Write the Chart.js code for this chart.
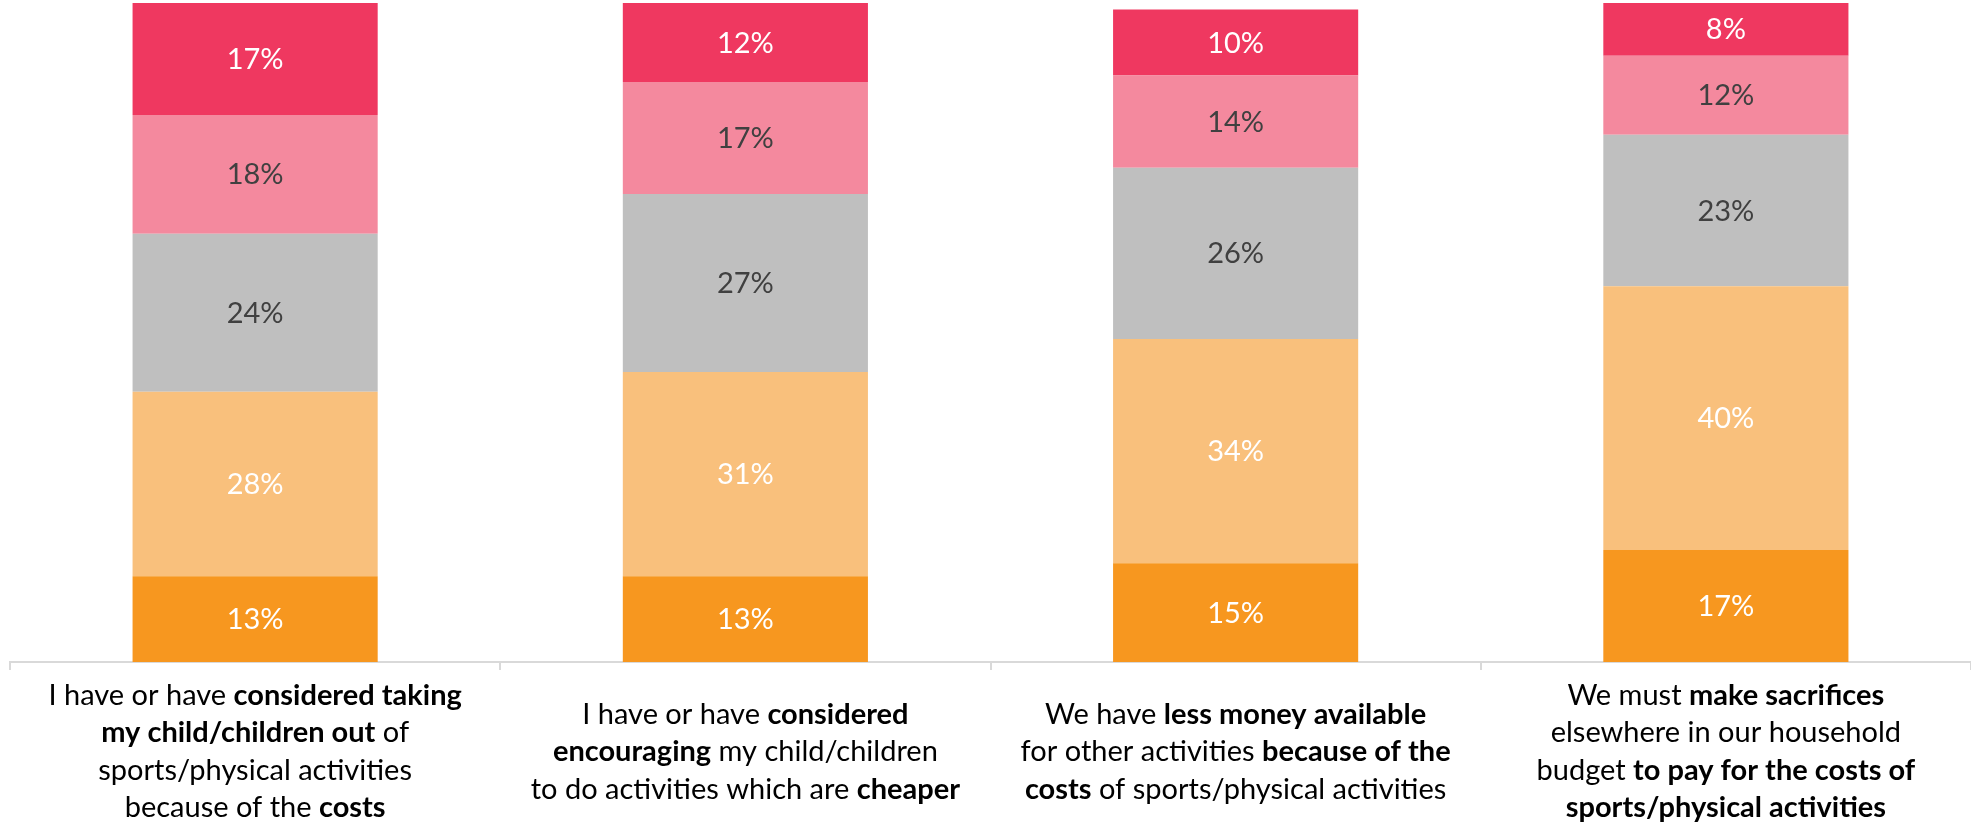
<!DOCTYPE html>
<html>
<head>
<meta charset="utf-8">
<script src="https://cdn.jsdelivr.net/npm/chart.js@4"></script>
<style>
  html, body { margin: 0; padding: 0; background: #fff; }
  #chart { display: block; }
</style>
</head>
<body>
<canvas id="chart" width="1971" height="825"></canvas>
<script>
// category labels, ** marks the bold parts
const categoryLines = [
	['I have or have **considered taking**', '**my child/children out** of', 'sports/physical activities', 'because of the **costs**'],
	['I have or have **considered**', '**encouraging** my child/children', 'to do activities which are **cheaper**'],
	['We have **less money available**', 'for other activities **because of the**', '**costs** of sports/physical activities'],
	['We must **make sacrifices**', 'elsewhere in our household', 'budget **to pay for the costs of**', '**sports/physical activities**']
];

// stack from bottom to top (%)
const orangeValues = [13, 13, 15, 17];
const lightOrangeValues = [28, 31, 34, 40];
const greyValues = [24, 27, 26, 23];
const pinkValues = [18, 17, 14, 12];
const redValues = [17, 12, 10, 8];

const FONT = 'Lato, "Open Sans", sans-serif';

const datasets = [
	{ data: orangeValues, backgroundColor: '#F7971F', labelColor: '#ffffff' },
	{ data: lightOrangeValues, backgroundColor: '#F9C07C', labelColor: '#ffffff' },
	{ data: greyValues, backgroundColor: '#BFBFBF', labelColor: '#404040' },
	{ data: pinkValues, backgroundColor: '#F4899E', labelColor: '#404040' },
	{ data: redValues, backgroundColor: '#EF3860', labelColor: '#ffffff' }
].map((d, i) => ({
	label: 'series' + i,
	data: d.data,
	backgroundColor: d.backgroundColor,
	labelColor: d.labelColor,
	borderWidth: 0,
	barPercentage: 0.5,
	categoryPercentage: 1.0
}));

// percentage inside every segment
const valueLabels = {
	id: 'valueLabels',
	afterDatasetsDraw(chart) {
		const ctx = chart.ctx;
		ctx.save();
		ctx.font = '29px ' + FONT;
		ctx.textAlign = 'center';
		ctx.textBaseline = 'alphabetic';
		chart.data.datasets.forEach((ds, i) => {
			const meta = chart.getDatasetMeta(i);
			meta.data.forEach((bar, j) => {
				const { x, y, base } = bar.getProps(['x', 'y', 'base'], true);
				ctx.fillStyle = ds.labelColor;
				ctx.fillText(ds.data[j] + '%', x, (y + base) / 2 + 10);
			});
		});
		ctx.restore();
	}
};

// multi-line category labels with bold runs
const richLabels = {
	id: 'richLabels',
	afterDraw(chart) {
		const ctx = chart.ctx;
		const xScale = chart.scales.x;
		const lineHeight = 37.5;
		const centerY = chart.chartArea.bottom + 99;
		const regular = '29px ' + FONT;
		const bold = 'bold 29px ' + FONT;
		ctx.save();
		ctx.fillStyle = '#000000';
		ctx.textAlign = 'left';
		ctx.textBaseline = 'alphabetic';
		categoryLines.forEach((lines, i) => {
			const cx = xScale.getPixelForValue(i);
			const firstY = centerY - (lines.length - 1) / 2 * lineHeight;
			lines.forEach((line, k) => {
				const parts = line.split('**').map((t, n) => ({ text: t, bold: n % 2 === 1 })).filter(p => p.text);
				let total = 0;
				parts.forEach(p => {
					ctx.font = p.bold ? bold : regular;
					p.w = ctx.measureText(p.text).width;
					total += p.w;
				});
				let x = cx - total / 2;
				const y = firstY + k * lineHeight;
				parts.forEach(p => {
					ctx.font = p.bold ? bold : regular;
					ctx.fillText(p.text, x, y);
					x += p.w;
				});
			});
		});
		ctx.restore();
	}
};

new Chart(document.getElementById('chart').getContext('2d'), {
	type: 'bar',
	data: {
		labels: categoryLines.map((l, i) => i),
		datasets: datasets
	},
	options: {
		responsive: false,
		animation: false,
		layout: { padding: { top: 3, left: 10, right: 0, bottom: 155 } },
		plugins: {
			legend: { display: false },
			tooltip: { enabled: false }
		},
		scales: {
			x: {
				stacked: true,
				grid: {
					display: true,
					drawOnChartArea: false,
					drawTicks: true,
					tickLength: 8,
					color: '#D9D9D9',
					lineWidth: 2
				},
				border: { display: true, color: '#D9D9D9', width: 2 },
				ticks: { display: false }
			},
			y: {
				stacked: true,
				display: false,
				min: 0,
				max: 100
			}
		}
	},
	plugins: [valueLabels, richLabels]
});
</script>
</body>
</html>
